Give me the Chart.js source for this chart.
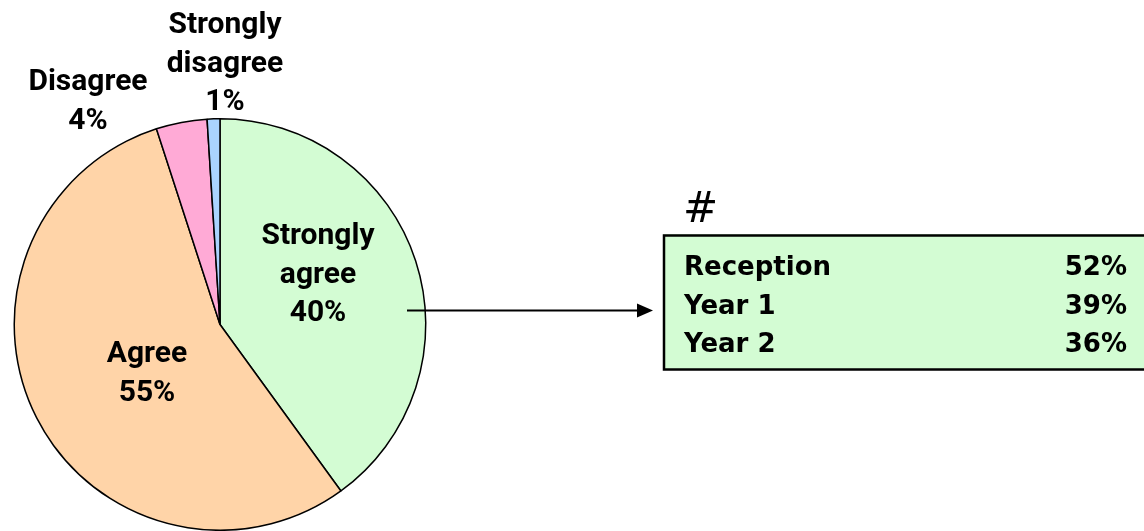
<!DOCTYPE html>
<html>
<head>
<meta charset="utf-8">
<script src="https://cdn.jsdelivr.net/npm/chart.js@4.4.1/dist/chart.umd.min.js"></script>
<style>
  body { margin: 0; background: #fff; }
  #wrap { width: 1144px; height: 531px; position: relative; }
</style>
</head>
<body>
<div id="wrap"><canvas id="pie"></canvas></div>
<script>
const categories = ['Strongly agree', 'Agree', 'Disagree', 'Strongly disagree']
const values = [40, 55, 4, 1]
const boxTitle = '#'
const boxRows = ['Reception', 'Year 1', 'Year 2']
const boxValues = [52, 39, 36]

const colors = ['#d3fcd3', '#ffd4a8', '#ffaad6', '#aad4ff']
// baseline of first label line, relative to pie centre (px)
const labelOffsets = [[98, -80.5], [-73, 37.5], [-132, -234.5], [5, -291.5]]
const labelLines = [['Strongly', 'agree'], ['Agree'], ['Disagree'], ['Strongly', 'disagree']]

const font = 'Roboto, "DejaVu Sans", sans-serif'

const annotate = {
    id: 'annotate',
    afterDraw(chart) {
        const ctx = chart.ctx
        const arcs = chart.getDatasetMeta(0).data
        const cx = arcs[0].x
        const cy = arcs[0].y
        ctx.save()
        ctx.fillStyle = '#000'
        ctx.textAlign = 'center'
        ctx.textBaseline = 'alphabetic'
        ctx.font = 'bold 30px ' + font
        arcs.forEach((arc, i) => {
            const lines = labelLines[i].concat([values[i] + '%'])
            const [dx, dy] = labelOffsets[i]
            lines.forEach((t, j) => ctx.fillText(t, cx + dx, cy + dy + j * 38.5))
        })

        // arrow from the strongly agree slice to the box
        const ay = 310.5
        ctx.strokeStyle = '#000'
        ctx.lineWidth = 2
        ctx.beginPath()
        ctx.moveTo(407, ay)
        ctx.lineTo(640, ay)
        ctx.stroke()
        ctx.beginPath()
        ctx.moveTo(653, ay)
        ctx.lineTo(637, ay - 7)
        ctx.lineTo(637, ay + 7)
        ctx.closePath()
        ctx.fill()

        // box
        ctx.fillStyle = colors[0]
        ctx.fillRect(663, 234, 500, 136)
        ctx.lineWidth = 2.5
        ctx.strokeRect(664, 235.5, 500, 134)
        ctx.fillStyle = '#000'
        ctx.font = '42px "DejaVu Sans", sans-serif'
        ctx.textAlign = 'left'
        ctx.fillText(boxTitle, 683, 222)
        ctx.font = 'bold 26px "DejaVu Sans", sans-serif'
        boxRows.forEach((r, i) => {
            const y = 275 + i * 38.5
            ctx.textAlign = 'left'
            ctx.fillText(r, 684, y)
            ctx.textAlign = 'right'
            ctx.fillText(boxValues[i] + '%', 1127, y)
        })
        ctx.restore()
    }
}

new Chart(document.getElementById('pie'), {
    type: 'pie',
    data: {
        labels: categories,
        datasets: [{
            data: values,
            backgroundColor: colors,
            borderColor: '#000',
            borderWidth: 1.5
        }]
    },
    options: {
        responsive: true,
        maintainAspectRatio: false,
        animation: false,
        layout: { padding: { left: 13, top: 118, right: 717, bottom: 0 } },
        plugins: {
            legend: { display: false },
            tooltip: { enabled: false }
        }
    },
    plugins: [annotate]
})
</script>
</body>
</html>
